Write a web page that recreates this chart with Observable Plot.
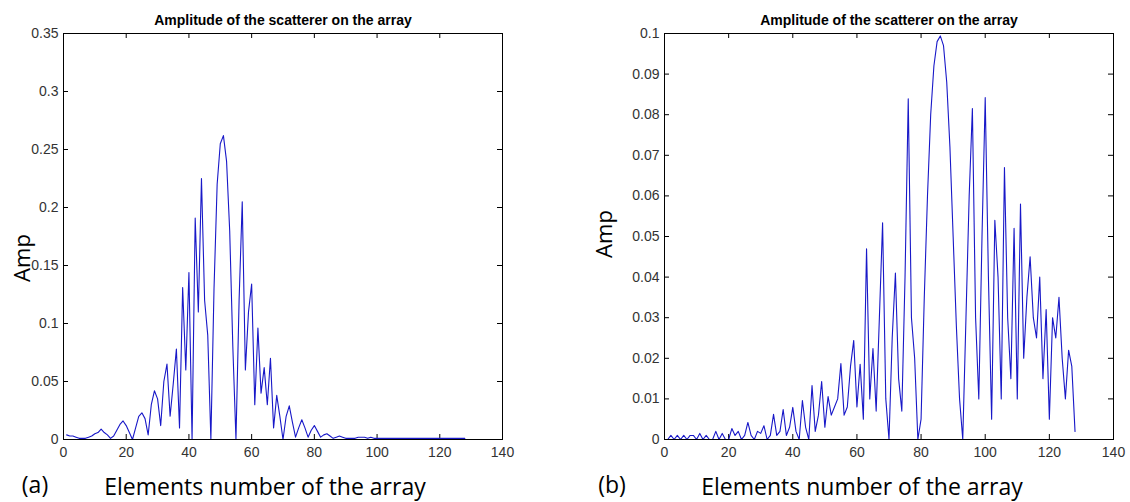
<!DOCTYPE html>
<html>
<head>
<meta charset="utf-8">
<script src="https://cdn.jsdelivr.net/npm/d3@7"></script>
<script src="https://cdn.jsdelivr.net/npm/@observablehq/plot@0.6"></script>
<style>
  html, body { margin: 0; padding: 0; background: white; }
  #wrap { position: relative; width: 1130px; height: 502px; overflow: hidden; background: white; }
  .panel { position: absolute; top: 0; }
  .lbl { position: absolute; font-family: "Open Sans", "Noto Sans", sans-serif; color: #000; white-space: nowrap; }
</style>
</head>
<body>
<div id="wrap"></div>
<script>
// ---------- data ----------
const chartTitle = "Amplitude of the scatterer on the array";
const xTicks = [0, 20, 40, 60, 80, 100, 120, 140];
const yTicksA = [0, 0.05, 0.1, 0.15, 0.2, 0.25, 0.3, 0.35];
const yTicksB = [0, 0.01, 0.02, 0.03, 0.04, 0.05, 0.06, 0.07, 0.08, 0.09, 0.1];
const xAxisText = "Elements number of the array";
const yAxisText = "Amp";
const panelTags = ["(a)", "(b)"];

// amplitude per array element (elements 1..128), panel (a)
const ampA = [
  0.004, 0.003, 0.003, 0.002, 0.001, 0.001, 0.001, 0.002, 0.003, 0.005,
  0.006, 0.009, 0.006, 0.004, 0.001, 0.003, 0.008, 0.013, 0.016, 0.012,
  0.006, 0.000, 0.010, 0.020, 0.023, 0.018, 0.004, 0.030, 0.042, 0.035,
  0.012, 0.050, 0.065, 0.020, 0.048, 0.078, 0.010, 0.131, 0.060, 0.144,
  0.000, 0.191, 0.110, 0.225, 0.120, 0.090, 0.000, 0.130, 0.220, 0.255,
  0.262, 0.240, 0.180, 0.080, 0.000, 0.120, 0.205, 0.060, 0.110, 0.134,
  0.030, 0.096, 0.040, 0.062, 0.030, 0.070, 0.010, 0.038, 0.020, 0.000,
  0.020, 0.029, 0.015, 0.002, 0.010, 0.017, 0.010, 0.002, 0.008, 0.012,
  0.007, 0.002, 0.004, 0.005, 0.003, 0.001, 0.002, 0.003, 0.002, 0.001,
  0.001, 0.001, 0.001, 0.002, 0.002, 0.002, 0.001, 0.002, 0.001, 0.001,
  0.001, 0.001, 0.001, 0.001, 0.001, 0.001, 0.001, 0.001, 0.001, 0.001,
  0.001, 0.001, 0.001, 0.001, 0.001, 0.001, 0.001, 0.001, 0.001, 0.001,
  0.001, 0.001, 0.001, 0.001, 0.001, 0.001, 0.001, 0.001
];

// amplitude per array element (elements 1..128), panel (b)
const ampB = [
  0.000, 0.001, 0.000, 0.001, 0.000, 0.001, 0.000, 0.001, 0.001, 0.000,
  0.0015, 0.000, 0.001, 0.000, 0.000, 0.002, 0.000, 0.0015, 0.000, 0.000,
  0.0027, 0.001, 0.002, 0.000, 0.001, 0.0042, 0.001, 0.000, 0.002, 0.0015,
  0.0034, 0.000, 0.001, 0.0062, 0.001, 0.002, 0.0074, 0.001, 0.003, 0.0079,
  0.002, 0.000, 0.0096, 0.003, 0.000, 0.0133, 0.002, 0.006, 0.0143, 0.003,
  0.0106, 0.006, 0.008, 0.010, 0.0187, 0.006, 0.008, 0.018, 0.0244, 0.008,
  0.0185, 0.005, 0.047, 0.010, 0.0224, 0.007, 0.030, 0.0534, 0.010, 0.000,
  0.025, 0.041, 0.015, 0.007, 0.040, 0.0839, 0.030, 0.020, 0.000, 0.005,
  0.035, 0.060, 0.080, 0.092, 0.098, 0.0994, 0.097, 0.088, 0.072, 0.050,
  0.028, 0.010, 0.000, 0.030, 0.060, 0.0815, 0.030, 0.010, 0.050, 0.0842,
  0.040, 0.005, 0.054, 0.040, 0.010, 0.067, 0.030, 0.015, 0.052, 0.010,
  0.058, 0.020, 0.035, 0.045, 0.030, 0.025, 0.040, 0.015, 0.032, 0.005,
  0.030, 0.025, 0.035, 0.020, 0.010, 0.022, 0.018, 0.002
];

// ---------- drawing ----------
const wrap = document.getElementById("wrap");

function panel({amp, yDomain, yTicks, left, marginLeft, marginRight}) {
  const W = 565, H = 460, mt = 33, mb = 21;
  const pw = W - marginLeft - marginRight, ph = H - mt - mb;
  const data = amp.map((v, i) => ({x: i + 1, y: v}));
  const fmt = d => String(d);
  const svg = Plot.plot({
    width: W, height: H,
    marginLeft, marginRight, marginTop: mt, marginBottom: mb,
    style: {fontFamily: "'Liberation Sans', Arial, sans-serif", fontSize: "14px", color: "#333", background: "transparent", overflow: "visible"},
    x: {domain: [0, 140], ticks: xTicks, tickSize: 0, tickPadding: 8, label: null, tickFormat: fmt},
    y: {domain: yDomain, ticks: yTicks, tickSize: 0, tickPadding: 5, label: null, tickFormat: fmt},
    marks: [
      Plot.tickX(xTicks, {x: d => d, insetTop: ph - 5, stroke: "black"}),
      Plot.tickX(xTicks, {x: d => d, insetBottom: ph - 5, stroke: "black"}),
      Plot.tickY(yTicks, {y: d => d, insetRight: pw - 5, stroke: "black"}),
      Plot.tickY(yTicks, {y: d => d, insetLeft: pw - 5, stroke: "black"}),
      Plot.line(data, {x: "x", y: "y", stroke: "#1818c8", strokeWidth: 1.1}),
      Plot.frame({stroke: "black", strokeWidth: 1}),
      Plot.text([chartTitle], {
        frameAnchor: "top", dy: -18, fontWeight: "bold", fill: "#000",
        fontFamily: "'Liberation Sans Narrow', 'Arial Narrow', 'Liberation Sans', sans-serif",
        fontSize: 14
      })
    ]
  });
  svg.classList.add("panel");
  svg.style.left = left + "px";
  wrap.appendChild(svg);
}

panel({amp: ampA, yDomain: [0, 0.35], yTicks: yTicksA, left: 0, marginLeft: 63, marginRight: 63});
panel({amp: ampB, yDomain: [0, 0.1], yTicks: yTicksB, left: 565, marginLeft: 99, marginRight: 17});

function label(text, cx, cy, size, rotate) {
  const d = document.createElement("div");
  d.className = "lbl";
  d.textContent = text;
  d.style.fontSize = size + "px";
  d.style.left = cx + "px";
  d.style.top = cy + "px";
  d.style.transform = "translate(-50%, -50%)" + (rotate ? " rotate(-90deg)" : "");
  wrap.appendChild(d);
}
label(yAxisText, 21, 258, 22, true);
label(yAxisText, 603, 234, 22, true);
label(panelTags[0], 35, 484, 23, false);
label(panelTags[1], 612, 484, 23, false);
label(xAxisText, 265, 486, 23, false);
label(xAxisText, 862, 486, 23, false);
</script>
</body>
</html>
